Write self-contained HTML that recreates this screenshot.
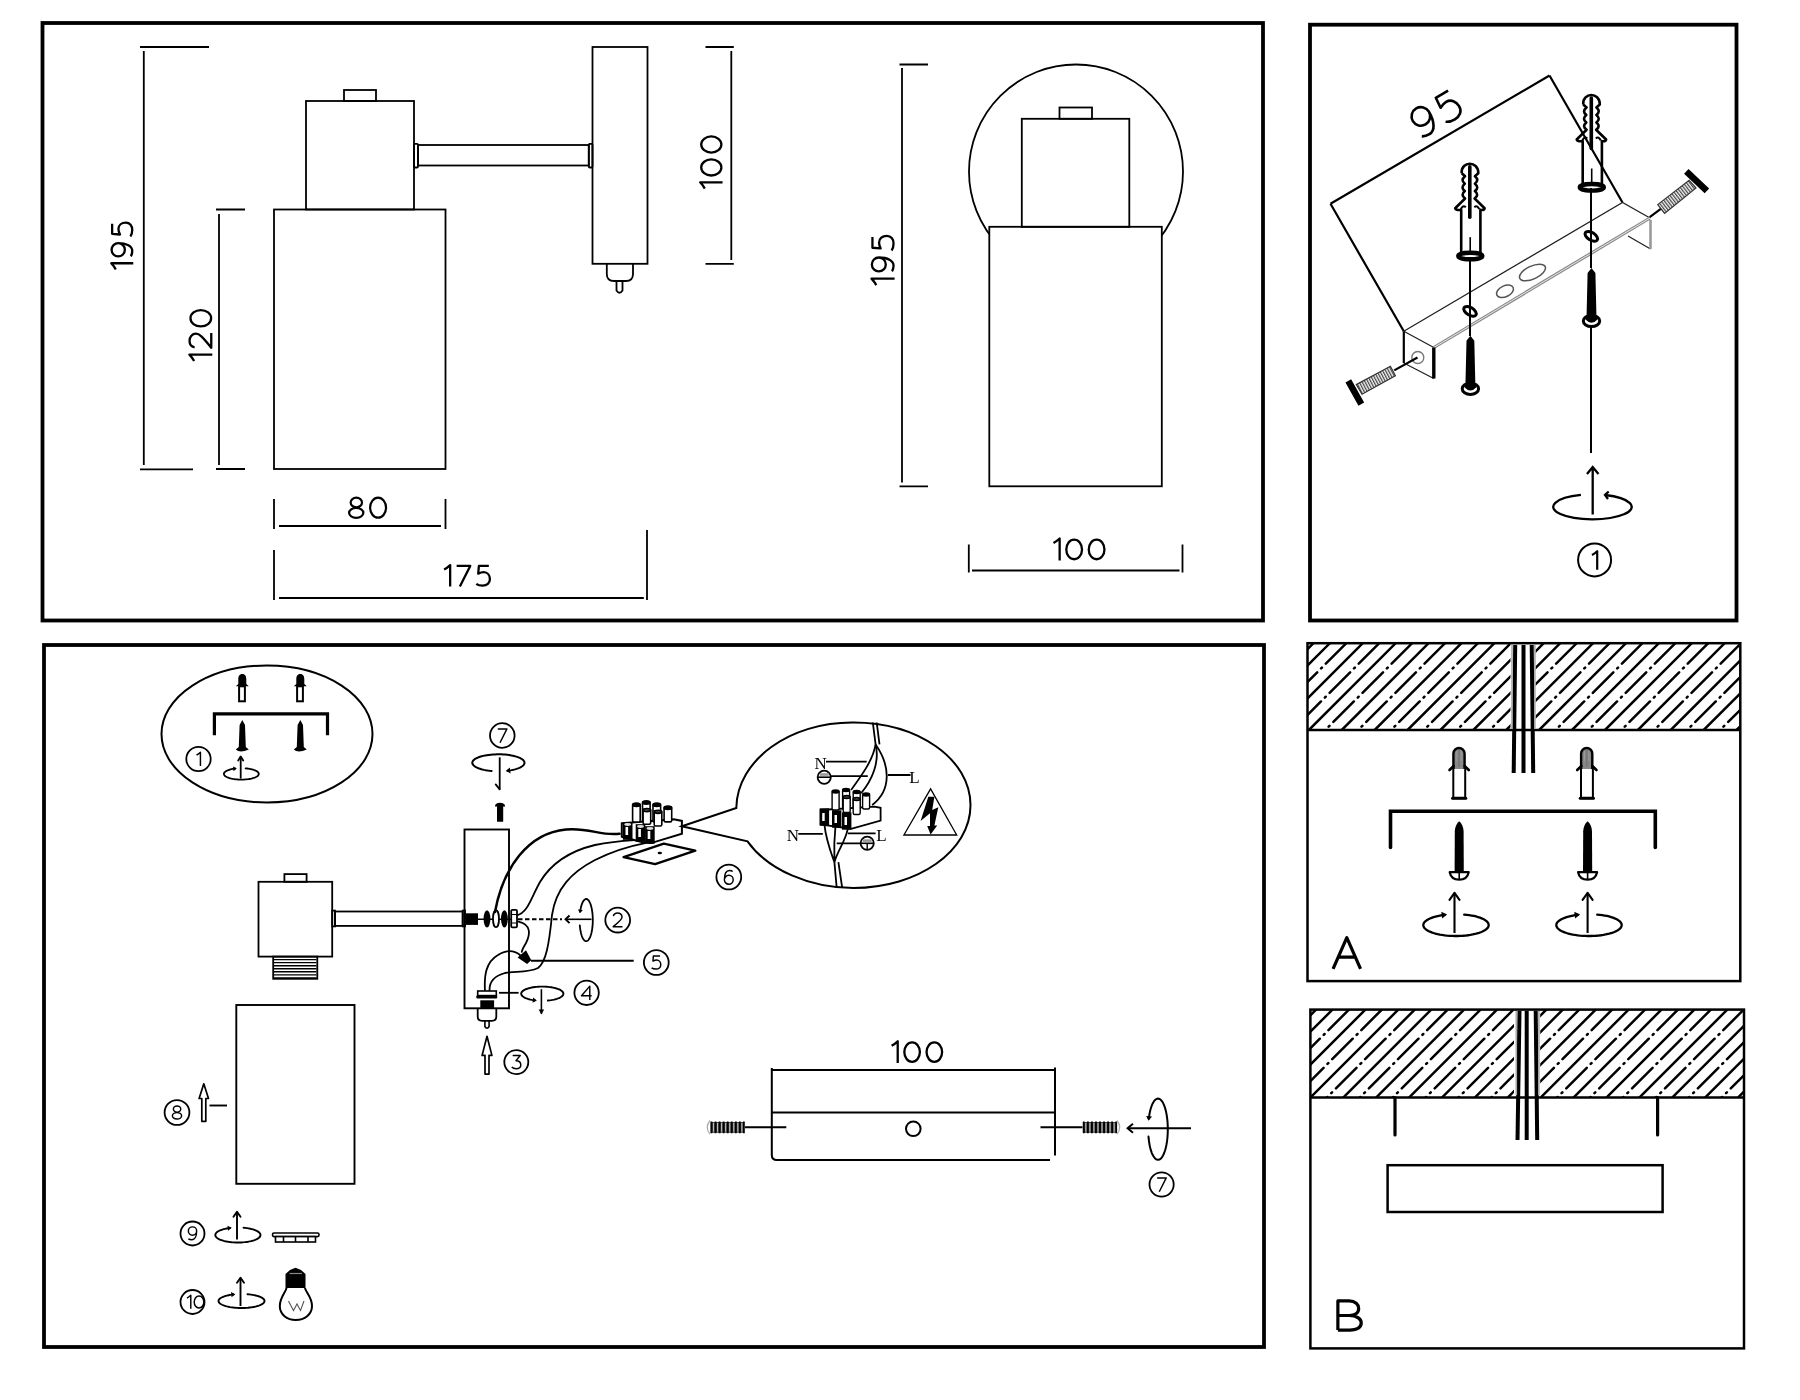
<!DOCTYPE html>
<html><head><meta charset="utf-8"><title>Lamp installation</title>
<style>
html,body{margin:0;padding:0;background:#fff;width:1800px;height:1400px;overflow:hidden}
svg{display:block;filter:grayscale(100%)}
text{font-family:"Liberation Sans",sans-serif;fill:#000}
.d{font-size:32px}
.sf{font-family:"Liberation Serif",serif}
</style></head><body>
<svg width="1800" height="1400" viewBox="0 0 1800 1400">
<rect x="0" y="0" width="1800" height="1400" fill="#fff"/>
<!-- ===== FRAMES ===== -->
<g fill="none" stroke="#000" stroke-width="3.8">
<rect x="42.5" y="23" width="1220.5" height="597.5"/>
<rect x="1310" y="24.7" width="426.5" height="595.8"/>
<rect x="44" y="645" width="1220" height="702"/>
</g>

<!-- ===== PANEL 1: side view ===== -->
<g id="p1" fill="none" stroke="#000" stroke-width="1.8">
 <!-- dim 195 -->
 <path d="M140 47H209M143.8 51V465M140 469.3H193"/>
 <!-- head box + cap -->
 <rect x="306" y="101" width="108" height="108.5"/>
 <rect x="344" y="90" width="32" height="11"/>
 <!-- shade -->
 <rect x="274" y="209.5" width="171.5" height="259.5"/>
 <!-- dim 120 -->
 <path d="M216 209.5H245M219 214V465M216 469H245"/>
 <!-- arm -->
 <rect x="418" y="145" width="170.8" height="20.5"/>
 <rect x="414" y="143.8" width="4" height="23.7" rx="1"/>
 <rect x="588.8" y="143.8" width="3.7" height="23.7" rx="1"/>
 <!-- wall plate -->
 <rect x="592.5" y="47" width="55" height="216.8"/>
 <path d="M606.8 263.8V274Q606.8 281 614 281H626Q633 281 633 274V263.8"/>
 <path d="M616.5 281V290.5Q619.5 295 622.5 290.5V281"/>
 <!-- dim 100 -->
 <path d="M705.5 47H733.8M731.3 51V260M705.5 263.8H733.8"/>
 <!-- dim 80 -->
 <path d="M274 499V529M445.5 499V529M279 526H441"/>
 <!-- dim 175 -->
 <path d="M274 550V600M647 530V600M279 598H643.8"/>
</g>
<g>
</g>

<!-- ===== PANEL 1: front view ===== -->
<g fill="none" stroke="#000" stroke-width="1.8">
 <path d="M899.5 64.5H928M902 68V482.5M899.5 486.3H928"/>
 <circle cx="1076" cy="171.5" r="107"/>
 <rect x="989.3" y="226.8" width="172.5" height="259.5" fill="#fff"/>
 <rect x="1021.8" y="118.8" width="107.5" height="108"/>
 <rect x="1059.5" y="107.5" width="32.5" height="11.3"/>
 <path d="M968.8 544.5V572.5M1182.5 544.5V572.5M972 570.5H1179.5"/>
</g>
<g>
</g>


<!-- ===== PANEL 3: isometric bracket ===== -->
<defs>
 <g id="anchor">
  <path d="M-8.1,9.5 C-8.6,3 -4,0 0,0 C4,0 8.6,3 8.5,9.5 L5.1,12.5 Q9.8,16.2 5.1,20 Q9.8,23.7 5.1,27.4 Q9.8,31.2 4.8,34.8 L14.8,44.5 Q14.5,46.6 10.6,46.2 L10.6,89.5 M-8.1,9.5 L-4.7,12.5 Q-9.6,16.2 -5,20 Q-9.6,23.7 -5,27.4 Q-9.6,31.2 -4.7,34.8 L-14.6,44.5 Q-14.5,46.6 -8.6,46.2 L-8.6,89.5" fill="none" stroke="#000" stroke-width="2.6" stroke-linejoin="round"/>
  <path d="M-9,45.5 Q-7,41 -4,43.5 M9.5,45.5 Q7.5,41 4.5,43.5" fill="none" stroke="#000" stroke-width="2"/>
  <path d="M0,3 V53.5" stroke="#000" stroke-width="3.6" stroke-linecap="round"/>
  <path d="M0.4,73.5 V91" stroke="#000" stroke-width="1.6"/>
  <ellipse cx="0.5" cy="92.3" rx="12" ry="3.3" fill="none" stroke="#000" stroke-width="4.4"/>
 </g>
 <pattern id="thrR" patternUnits="userSpaceOnUse" width="2.6" height="2.6" patternTransform="rotate(-37.7)"><rect width="2.6" height="2.6" fill="#f2f2f2"/><rect width="1.2" height="2.6" fill="#444"/></pattern>
 <pattern id="thrL" patternUnits="userSpaceOnUse" width="2.6" height="2.6" patternTransform="rotate(-27.6)"><rect width="2.6" height="2.6" fill="#f2f2f2"/><rect width="1.2" height="2.6" fill="#444"/></pattern>
 <g id="screw">
  <path d="M0,0 L-3.9,5 L-5,51 L5,51 L3.9,5 Z" fill="#000"/>
  <ellipse cx="0" cy="53" rx="8.2" ry="5.6" fill="#fff" stroke="#000" stroke-width="3"/>
  <path d="M-6,51.5 Q0,58 6,51.5 L4.6,48 L-4.6,48 Z" fill="#000"/>
 </g>
</defs>
<g fill="none" stroke="#000">
 <path d="M1330.5,203.8 L1549.5,75.5 M1330.5,203.8 L1403.8,331.3 M1549.5,75.5 L1622.5,202.5" stroke-width="2.2"/>
 <path d="M1403.8,331.3 L1622.5,202.5 L1650,218 M1403.8,331.3 L1433.8,347.5 M1403.8,363 L1433.8,378.5 M1650.5,249 L1628,236" stroke-width="1.3" stroke="#222"/>
 <path d="M1433.8,347.5 L1650,218" stroke="#8a8a8a" stroke-width="3.2"/>
 <path d="M1433.8,347.5 L1650,218" stroke="#e8e8e8" stroke-width="1"/>
 <path d="M1650.5,220 V249" stroke="#9a9a9a" stroke-width="2.6"/>
 <path d="M1403.8,331.3 V363" stroke-width="2.2"/>
 <path d="M1433.8,347.5 V378.5" stroke-width="3.4"/>
 <circle cx="1417.8" cy="357.5" r="6" stroke="#777" stroke-width="1.4"/>
 <ellipse cx="1505" cy="291.3" rx="9" ry="5.5" transform="rotate(-25 1505 291.3)" stroke="#555" stroke-width="1.5"/>
 <ellipse cx="1532.5" cy="272.5" rx="14" ry="6.5" transform="rotate(-25 1532.5 272.5)" stroke="#555" stroke-width="1.5"/>
 <ellipse cx="1470" cy="311.3" rx="7" ry="3.8" transform="rotate(32 1470 311.3)" stroke-width="3"/>
 <ellipse cx="1591.3" cy="236.3" rx="7" ry="3.8" transform="rotate(32 1591.3 236.3)" stroke-width="3"/>
 <path d="M1470,258 V336 M1591,188 V268 M1591,327 V453" stroke-width="2"/>
 <!-- bolts -->
 <path d="M1417.5,357.5 L1394.2,370.4 M1649.7,217.1 L1661.1,208.6" stroke-width="2.2"/>
</g>
<polygon points="1390.4,366.3 1395.4,375.8 1362,394.2 1356.3,384.6" fill="url(#thrL)" stroke="#333" stroke-width="1.2"/>
<polygon points="1657.7,204.6 1689.1,180.3 1696,188 1664.6,213.4" fill="url(#thrR)" stroke="#333" stroke-width="1.2"/>
<path d="M1348.3,380.8 L1361.3,404.2 M1686.3,171.4 L1706.9,190.9" stroke="#000" stroke-width="6.5"/>
<use href="#anchor" x="1469.8" y="163.7"/>
<use href="#anchor" x="1591.3" y="95"/>
<use href="#screw" x="1470.4" y="335.8"/>
<use href="#screw" x="1591.5" y="268"/>
<g fill="none" stroke="#000" stroke-width="2.3">
 <path d="M1592.7,514.4 V467 M1587,474 L1592.7,467 L1598.5,474"/>
 <path d="M1580.9,494.9 A39.25,12.5 0 1 0 1605,495"/>
 <path d="M1608.7,491.5 L1605,495 L1608,499"/>
 <circle cx="1594.6" cy="559.9" r="16.5" stroke-width="2"/>
</g>


<!-- ===== PANEL 2: assembly ===== -->

<ellipse cx="267" cy="734" rx="105.5" ry="68.5" fill="none" stroke="#000" stroke-width="2"/>
<path d="M214.4,735.2 V713.8 H327.5 V735.2" fill="none" stroke="#000" stroke-width="3.2"/>
<path d="M242.3,674 c3,0 4,2.5 4,5 l0,5 l2.5,2.3 h-13 l2.5,-2.3 v-5 c0,-2.5 1,-5 4,-5z" fill="#000"/>
<rect x="239.1" y="686.3" width="5.8" height="15" fill="#fff" stroke="#000" stroke-width="2"/>
<path d="M242.3,719.9 l-2.7,5 l-0.8,22 l-3,2.5 q4,4 13,0 l-3,-2.5 l-0.8,-22 z" fill="#000"/>
<path d="M300.3,674 c3,0 4,2.5 4,5 l0,5 l2.5,2.3 h-13 l2.5,-2.3 v-5 c0,-2.5 1,-5 4,-5z" fill="#000"/>
<rect x="297.1" y="686.3" width="5.8" height="15" fill="#fff" stroke="#000" stroke-width="2"/>
<path d="M300.3,719.9 l-2.7,5 l-0.8,22 l-3,2.5 q4,4 13,0 l-3,-2.5 l-0.8,-22 z" fill="#000"/>
<circle cx="198.5" cy="759" r="12.2" fill="none" stroke="#000" stroke-width="1.8"/><g transform="translate(198.5,759) rotate(0) scale(13.8) translate(-0.19,0.5)" fill="none" stroke="#000" stroke-width="0.1051" stroke-linecap="butt" stroke-linejoin="round"><path transform="translate(0,0)" d="M0.05,-0.79 Q0.2,-0.87 0.33,-0.995 V0"/></g>
<path d="M245.6,768.37 L246.96,768.5 L248.28,768.67 L249.55,768.87 L250.77,769.1 L251.93,769.37 L253.02,769.66 L254.04,769.99 L254.96,770.33 L255.8,770.71 L256.55,771.1 L257.19,771.51 L257.73,771.94 L258.17,772.38 L258.49,772.83 L258.7,773.29 L258.79,773.75 L258.77,774.21 L258.64,774.67 L258.39,775.12 L258.03,775.57 L257.56,776.01 L256.99,776.43 L256.31,776.83 L255.53,777.22 L254.66,777.59 L253.71,777.93 L252.67,778.24 L251.55,778.52 L250.37,778.78 L249.13,779 L247.84,779.19 L246.51,779.35 L245.14,779.46 L243.75,779.55 L242.34,779.59 L240.92,779.6 L239.51,779.57 L238.11,779.5 L236.73,779.4 L235.39,779.26 L234.08,779.08 L232.82,778.87 L231.61,778.63 L230.47,778.36 L229.4,778.05 L228.41,777.72 L227.5,777.37 L226.69,776.99 L225.97,776.59 L225.35,776.18 L224.84,775.75 L224.44,775.3 L224.14,774.85 L223.97,774.39 L223.9,773.93 L223.95,773.47 L224.11,773.01 L224.39,772.56 L224.78,772.11 L225.28,771.68 L225.88,771.26 L226.59,770.86 L227.39,770.48 L228.28,770.12 L229.26,769.79 L230.32,769.48 L231.46,769.2 L232.65,768.96 L233.91,768.74 L235.21,768.56" fill="none" stroke="#000" stroke-width="1.8" stroke-linecap="round"/><path d="M236.77,768.37 L233.59,771.18 L233.01,766.42 Z" fill="#000"/>
<path d="M240.7,778.6 V756.5" stroke="#000" stroke-width="1.8"/><path d="M238.2,760.5 L240.7,756.5 L243.2,760.5" fill="none" stroke="#000" stroke-width="1.8" stroke-linecap="round" stroke-linejoin="round"/>
<g fill="none" stroke="#000" stroke-width="1.8">
<rect x="258.5" y="881.8" width="73.7" height="74.8"/>
<rect x="284.4" y="874.1" width="22.2" height="7.7"/>
<rect x="335" y="911.5" width="127.7" height="14.4"/>
<rect x="332.2" y="910.6" width="2.8" height="15.8"/>
<rect x="462.7" y="910.6" width="2.3" height="15.8"/>
<rect x="273.2" y="956.6" width="44.1" height="22.2"/>
</g>
<path d="M274,959.6 H316.5M274,962.65 H316.5M274,965.7 H316.5M274,968.75 H316.5M274,971.8 H316.5M274,974.85 H316.5M274,977.9 H316.5" stroke="#000" stroke-width="1.4"/>
<rect x="464.5" y="829.5" width="44.5" height="178.8" fill="none" stroke="#000" stroke-width="1.9"/>
<rect x="465.6" y="913.3" width="12.4" height="11.6" fill="#000"/>
<path d="M478,919.2 H511" stroke="#000" stroke-width="1.6"/>
<ellipse cx="487" cy="918.8" rx="3.4" ry="8.6" fill="#000"/>
<ellipse cx="496" cy="918.8" rx="3" ry="8.4" fill="#fff" stroke="#000" stroke-width="1.8"/>
<ellipse cx="504.4" cy="918.8" rx="3.4" ry="8.6" fill="#000"/>
<rect x="511.2" y="909.8" width="5.8" height="17.6" rx="1.2" fill="#fff" stroke="#000" stroke-width="1.8"/>
<path d="M511.2,914.5 H517 M511.2,923 H517" stroke="#000" stroke-width="1.2"/>
<path d="M518,919.3 H562" stroke="#000" stroke-width="1.9" stroke-dasharray="4.5,2.5"/>
<path d="M566,919.3 H591.5" stroke="#000" stroke-width="1.6"/>
<path d="M569.5,915.5 L565.6,919.3 L569.5,923.1" fill="none" stroke="#000" stroke-width="2"/>
<path d="M579.81,925.38 L579.96,927 L580.16,928.58 L580.39,930.1 L580.66,931.56 L580.96,932.94 L581.3,934.25 L581.67,935.46 L582.07,936.57 L582.5,937.57 L582.95,938.46 L583.42,939.24 L583.91,939.89 L584.41,940.41 L584.93,940.81 L585.45,941.06 L585.98,941.19 L586.51,941.18 L587.04,941.03 L587.56,940.75 L588.07,940.33 L588.58,939.79 L589.06,939.11 L589.53,938.32 L589.98,937.41 L590.4,936.38 L590.79,935.25 L591.16,934.03 L591.49,932.71 L591.79,931.31 L592.05,929.84 L592.28,928.31 L592.47,926.73 L592.61,925.1 L592.72,923.44 L592.78,921.76 L592.8,920.06 L592.78,918.37 L592.71,916.69 L592.61,915.03 L592.46,913.4 L592.27,911.82 L592.04,910.29 L591.78,908.83 L591.48,907.43 L591.14,906.12 L590.78,904.9 L590.38,903.77 L589.96,902.75 L589.51,901.85 L589.04,901.06 L588.55,900.39 L588.05,899.85 L587.54,899.44 L587.02,899.16 L586.49,899.02 L585.96,899.01 L585.43,899.14 L584.91,899.41 L584.39,899.81 L583.89,900.34 L583.4,900.99 L582.93,901.77 L582.48,902.67 L582.06,903.68 L581.66,904.79 L581.29,906.01 L580.95,907.31 L580.65,908.7 L580.38,910.16 L580.15,911.69" fill="none" stroke="#000" stroke-width="1.8" stroke-linecap="round"/><path d="M579.94,913.25 L577.93,909.44 L582.88,910.12 Z" fill="#000"/>
<circle cx="617.7" cy="920.1" r="12.4" fill="none" stroke="#000" stroke-width="1.8"/><g transform="translate(617.7,920.1) rotate(0) scale(14.49) translate(-0.36,0.5)" fill="none" stroke="#000" stroke-width="0.1001" stroke-linecap="butt" stroke-linejoin="round"><path transform="translate(0,0)" d="M0.06,-0.77 C0.1,-0.94 0.22,-0.99 0.35,-0.99 C0.53,-0.99 0.66,-0.87 0.66,-0.71 C0.66,-0.57 0.56,-0.45 0.05,-0.045 H0.69"/></g>
<path d="M497,821.8 V806.5 H494.9 Q495.2,802.8 500,802.8 Q504.8,802.8 505.2,806.5 H503.2 V821.8 Z" fill="#000"/>
<circle cx="502.3" cy="735.5" r="12.3" fill="none" stroke="#000" stroke-width="1.8"/><g transform="translate(502.3,735.5) rotate(0) scale(14.49) translate(-0.36,0.5)" fill="none" stroke="#000" stroke-width="0.1001" stroke-linecap="butt" stroke-linejoin="round"><path transform="translate(0,0)" d="M0.05,-0.955 H0.68 L0.2,0"/></g>
<path d="M491.64,771.01 L489.63,770.81 L487.68,770.55 L485.79,770.24 L483.99,769.89 L482.28,769.49 L480.68,769.04 L479.19,768.55 L477.82,768.03 L476.6,767.47 L475.51,766.88 L474.57,766.27 L473.79,765.63 L473.17,764.98 L472.71,764.31 L472.42,763.63 L472.3,762.94 L472.35,762.25 L472.57,761.57 L472.96,760.9 L473.52,760.23 L474.23,759.59 L475.11,758.96 L476.14,758.36 L477.31,757.79 L478.62,757.26 L480.06,756.75 L481.61,756.29 L483.28,755.87 L485.05,755.5 L486.9,755.17 L488.83,754.89 L490.82,754.67 L492.86,754.49 L494.94,754.38 L497.03,754.31 L499.14,754.3 L501.24,754.35 L503.33,754.45 L505.38,754.61 L507.39,754.82 L509.34,755.08 L511.21,755.39 L513.01,755.76 L514.7,756.16 L516.3,756.61 L517.77,757.1 L519.12,757.63 L520.33,758.19 L521.4,758.78 L522.32,759.4 L523.09,760.04 L523.69,760.7 L524.13,761.37 L524.4,762.05 L524.5,762.74 L524.43,763.42 L524.19,764.1 L523.78,764.78 L523.21,765.44 L522.48,766.08 L521.58,766.7 L520.54,767.3 L519.35,767.87 L518.03,768.4 L516.58,768.9 L515.01,769.36 L513.33,769.77 L511.55,770.14 L509.69,770.46 L507.75,770.74" fill="none" stroke="#000" stroke-width="2" stroke-linecap="round"/><path d="M505.74,770.99 L509.84,767.45 L510.58,773.41 Z" fill="#000"/>
<path d="M499.7,757.3 V789.4" stroke="#000" stroke-width="1.8"/><path d="M495.7,784.4 L499.7,789.4" fill="none" stroke="#000" stroke-width="1.8" stroke-linecap="round"/>
<g fill="none" stroke="#000" stroke-linecap="round">
<path d="M495,912 C503,868 528,833 566,829.5 C590,827.5 600,836 619.5,833.8" stroke-width="2.5"/>
<path d="M517,915.5 C528,912 530,900 540,882 C552,862 570,851 595,845 C610,842 622,841 634.7,840.2" stroke-width="1.8"/>
<path d="M518.6,921.7 C532,925 530,935 526,943 C523,948 522,950 521.8,951.8" stroke-width="1.8"/>
<path d="M485,991 C484,975 486,962 498,955 C506,950 514,950 520,955" stroke-width="1.8"/>
<path d="M489.6,991 C489,982 494,976 505,973 C515,971 528,973 538,968 C546,962 549,945 552,915 C556,888 572,872 595,860 C615,850 630,846 645.2,843.1" stroke-width="1.8"/>
</g>
<path d="M517.6,957.6 L526,950.2 L531.3,960.3 L527.1,964 Z" fill="#000"/>
<path d="M531,960.8 H633.7" stroke="#000" stroke-width="1.9"/>
<circle cx="656.3" cy="962.5" r="12.4" fill="none" stroke="#000" stroke-width="1.8"/><g transform="translate(656.3,962.5) rotate(0) scale(14.49) translate(-0.36,0.5)" fill="none" stroke="#000" stroke-width="0.1001" stroke-linecap="butt" stroke-linejoin="round"><path transform="translate(0,0)" d="M0.62,-0.955 H0.16 L0.13,-0.6 C0.25,-0.66 0.34,-0.67 0.38,-0.67 C0.56,-0.67 0.67,-0.52 0.67,-0.34 C0.67,-0.15 0.53,-0.045 0.34,-0.045 C0.21,-0.045 0.1,-0.08 0.04,-0.13"/></g>
<rect x="477.7" y="991" width="18.6" height="4.6" fill="#fff" stroke="#000" stroke-width="1.6"/>
<rect x="476.3" y="995.4" width="20.9" height="3.2" rx="1" fill="#000"/>
<rect x="480.3" y="1000.3" width="13.8" height="8" fill="#000"/>
<path d="M477.7,1008.3 V1016.5 Q477.7,1020.8 482,1020.8 H492 Q496.3,1020.8 496.3,1016.5 V1008.3" fill="none" stroke="#000" stroke-width="1.8"/>
<path d="M484.9,1020.8 V1026.5 Q487,1030 489.1,1026.5 V1020.8" fill="none" stroke="#000" stroke-width="1.6"/>
<path d="M499,992.8 H518.6" stroke="#000" stroke-width="1.8"/>
<path d="M547.9,1000.55 L549.53,1000.37 L551.11,1000.15 L552.63,999.89 L554.08,999.59 L555.46,999.25 L556.75,998.88 L557.94,998.47 L559.03,998.02 L560.02,997.56 L560.89,997.06 L561.63,996.55 L562.25,996.01 L562.74,995.46 L563.1,994.9 L563.32,994.33 L563.4,993.76 L563.34,993.18 L563.15,992.61 L562.82,992.05 L562.36,991.5 L561.76,990.96 L561.04,990.44 L560.2,989.94 L559.23,989.46 L558.16,989.02 L556.99,988.6 L555.71,988.22 L554.35,987.87 L552.92,987.56 L551.41,987.3 L549.84,987.07 L548.22,986.89 L546.57,986.75 L544.88,986.65 L543.18,986.61 L541.48,986.61 L539.78,986.65 L538.09,986.74 L536.44,986.88 L534.82,987.06 L533.25,987.29 L531.74,987.55 L530.3,987.86 L528.93,988.21 L527.66,988.59 L526.48,989 L525.4,989.45 L524.44,989.92 L523.59,990.42 L522.86,990.94 L522.26,991.48 L521.79,992.03 L521.46,992.59 L521.26,993.16 L521.2,993.74 L521.28,994.31 L521.49,994.88 L521.84,995.44 L522.33,995.99 L522.94,996.53 L523.69,997.04 L524.55,997.54 L525.53,998.01 L526.62,998.45 L527.81,998.86 L529.1,999.24 L530.47,999.58 L531.92,999.88 L533.44,1000.14 L535.01,1000.36" fill="none" stroke="#000" stroke-width="1.9" stroke-linecap="round"/><path d="M536.8,1000.58 L532.51,1002.67 L533.15,997.51 Z" fill="#000"/>
<path d="M541.4,989.2 V1013.6" stroke="#000" stroke-width="1.6"/><path d="M541.4,1014.6 L538.65,1009.6 L544.15,1009.6 Z" fill="#000"/>
<circle cx="586.6" cy="992.8" r="12.2" fill="none" stroke="#000" stroke-width="1.8"/><g transform="translate(586.6,992.8) rotate(0) scale(14.49) translate(-0.39,0.5)" fill="none" stroke="#000" stroke-width="0.1001" stroke-linecap="butt" stroke-linejoin="round"><path transform="translate(0,0)" d="M0.61,0 V-0.96 L0.04,-0.29 H0.74"/></g>
<path d="M487,1036.3 L491.9,1055.4 H489 V1074.1 H485 V1055.4 H482.1 Z" fill="#fff" stroke="#000" stroke-width="1.7" stroke-linejoin="round"/>
<circle cx="516.3" cy="1062.1" r="12" fill="none" stroke="#000" stroke-width="1.8"/><g transform="translate(516.3,1062.1) rotate(0) scale(14.49) translate(-0.35,0.5)" fill="none" stroke="#000" stroke-width="0.1001" stroke-linecap="butt" stroke-linejoin="round"><path transform="translate(0,0)" d="M0.1,-0.955 H0.62 L0.33,-0.6 C0.53,-0.6 0.66,-0.47 0.66,-0.3 C0.66,-0.12 0.52,-0.045 0.34,-0.045 C0.2,-0.045 0.1,-0.09 0.04,-0.16"/></g>
<g stroke="#000" stroke-width="1.6">
<path d="M621.8,823.3 L673.8,819.2 L681.9,820.9 V833.8 L651,843.1 L641.7,841.9 L621.8,836.7 Z" fill="#fff" stroke-width="2"/>
<rect x="632.6" y="804" width="7.6" height="18" rx="1.5" fill="#fff"/>
<ellipse cx="636.4" cy="804.8" rx="3.8" ry="1.7" fill="#000"/>
<rect x="642.5" y="801.8" width="7.6" height="20" rx="1.5" fill="#fff"/>
<ellipse cx="646.3" cy="802.6" rx="3.8" ry="1.7" fill="#000"/>
<rect x="653" y="804" width="7.6" height="18" rx="1.5" fill="#fff"/>
<ellipse cx="656.8" cy="804.8" rx="3.8" ry="1.7" fill="#000"/>
<rect x="664.1" y="806.9" width="7.6" height="15" rx="1.5" fill="#fff"/>
<ellipse cx="667.9" cy="807.7" rx="3.8" ry="1.7" fill="#000"/>
<rect x="643.1" y="809.3" width="7.6" height="15" rx="1.5" fill="#fff"/>
<ellipse cx="646.9" cy="810.1" rx="3.8" ry="1.6" fill="#444"/>
<rect x="654.2" y="811" width="7.6" height="15" rx="1.5" fill="#fff"/>
<ellipse cx="658" cy="811.8" rx="3.8" ry="1.6" fill="#444"/>
<rect x="623.7" y="823" width="8" height="16" fill="#000"/>
<rect x="625.5" y="827" width="2.6" height="8" fill="#fff" stroke="none"/>
<ellipse cx="627.7" cy="824.5" rx="3.4" ry="1.4" fill="#ddd" stroke="none"/>
<rect x="636.5" y="825" width="8" height="16" fill="#000"/>
<rect x="638.3" y="829" width="2.6" height="8" fill="#fff" stroke="none"/>
<ellipse cx="640.5" cy="826.5" rx="3.4" ry="1.4" fill="#ddd" stroke="none"/>
<rect x="645.9" y="827" width="8" height="16" fill="#000"/>
<rect x="647.7" y="831" width="2.6" height="8" fill="#fff" stroke="none"/>
<ellipse cx="649.9" cy="828.5" rx="3.4" ry="1.4" fill="#ddd" stroke="none"/>
</g>
<path d="M623.6,857.1 L663.8,843.7 L695.3,850.7 L655.1,864.1 Z" fill="#fff" stroke="#000" stroke-width="2.4" stroke-linejoin="round"/>
<ellipse cx="659.8" cy="853" rx="2.2" ry="1.3" fill="#000"/>
<path d="M681.9,826.2 L736.3,808 C737,760 790,722 853.4,722.5 C918,722.5 970.5,759 970.5,805.3 C970.5,851 918,888 853.4,888 C810,888 768,870 747.5,841.3 Z" fill="#fff" stroke="#000" stroke-width="2"/>
<circle cx="728.8" cy="877" r="12.4" fill="none" stroke="#000" stroke-width="1.8"/><g transform="translate(728.8,877) rotate(0) scale(14.49) translate(-0.36,0.5)" fill="none" stroke="#000" stroke-width="0.1001" stroke-linecap="butt" stroke-linejoin="round"><path transform="translate(0,0)" d="M0.055,-0.31 A0.305,0.305 0 1 0 0.665,-0.31 A0.305,0.305 0 1 0 0.055,-0.31Z M0.055,-0.31 C0.055,-0.75 0.2,-0.955 0.4,-0.955 C0.5,-0.955 0.57,-0.93 0.63,-0.88"/></g>
<text x="820.6" y="769" font-size="17" text-anchor="middle" class="sf">N</text>
<text x="914.4" y="782.5" font-size="17" text-anchor="middle" class="sf">L</text>
<text x="792.8" y="840.5" font-size="17" text-anchor="middle" class="sf">N</text>
<text x="881.5" y="841" font-size="17" text-anchor="middle" class="sf">L</text>
<path d="M826,761.7 H866.7 M831,776.1 H867.8 M887.8,775 H910.6 M798.3,833.9 H822.8 M847.8,833.3 H875.6 M836.7,843.3 H860" stroke="#000" stroke-width="1.8"/>
<circle cx="824.2" cy="777.2" r="6.6" fill="#fff" stroke="#000" stroke-width="1.8"/>
<path d="M817.6,777.2 H830.8" stroke="#000" stroke-width="1.6"/>
<rect x="819.7" y="773.2" width="9" height="2.6" fill="#999"/>
<circle cx="867.2" cy="843.3" r="6.6" fill="#fff" stroke="#000" stroke-width="1.8"/>
<path d="M860.6,843.3 H873.8" stroke="#000" stroke-width="1.6"/>
<rect x="862.7" y="839.3" width="9" height="2.6" fill="#999"/>
<path d="M867.2,843.3 V849.9" stroke="#000" stroke-width="1.4"/>
<g fill="none" stroke="#000" stroke-width="1.8">
<path d="M872.8,722.5 L875.6,744.4 M876.7,722.5 L879.5,744.4"/>
<path d="M875.6,744.4 C873,760 862,775 851.1,790"/>
<path d="M875.6,744.4 C880,762 872,780 861.1,793.3"/>
<path d="M875.6,744.4 C890,765 892,790 872.2,805"/>
<path d="M824.4,824.4 C826,840 830,850 834.4,862.2 M835.6,824 C834,840 834,852 834.4,862.2 M847.8,828.9 C845,842 838,850 834.4,862.2"/>
<path d="M834.4,862.2 L836.7,887.8 M838.4,862.2 L842.2,887.8"/>
</g>
<g stroke="#000" stroke-width="1.4">
<path d="M820.6,810 L874.4,806.7 L880.6,807.8 V820.6 L851.1,828.9 L820.6,824.4 Z" fill="#fff" stroke-width="1.8"/>
<rect x="832.1" y="791" width="7" height="19" rx="1.5" fill="#fff"/>
<ellipse cx="835.6" cy="791.5" rx="3.5" ry="1.5" fill="#000"/>
<rect x="842.6" y="789.5" width="7" height="19" rx="1.5" fill="#fff"/>
<ellipse cx="846.1" cy="790" rx="3.5" ry="1.5" fill="#000"/>
<rect x="853.2" y="791.5" width="7" height="17" rx="1.5" fill="#fff"/>
<ellipse cx="856.7" cy="792" rx="3.5" ry="1.5" fill="#000"/>
<rect x="862.6" y="794" width="7" height="15" rx="1.5" fill="#fff"/>
<ellipse cx="866.1" cy="794.5" rx="3.5" ry="1.5" fill="#000"/>
<rect x="843.2" y="796.5" width="7" height="16" rx="1.5" fill="#fff"/>
<ellipse cx="846.7" cy="797" rx="3.5" ry="1.5" fill="#444"/>
<rect x="853.2" y="798.5" width="7" height="16" rx="1.5" fill="#fff"/>
<ellipse cx="856.7" cy="799" rx="3.5" ry="1.5" fill="#444"/>
<rect x="820.4" y="809" width="8" height="16" fill="#000"/>
<rect x="822.2" y="813" width="2.5" height="8" fill="#fff" stroke="none"/>
<rect x="832.7" y="811" width="8" height="16" fill="#000"/>
<rect x="834.5" y="815" width="2.5" height="8" fill="#fff" stroke="none"/>
<rect x="842.7" y="813" width="8" height="16" fill="#000"/>
<rect x="844.5" y="817" width="2.5" height="8" fill="#fff" stroke="none"/>
</g>
<path d="M930.6,788.9 L956.7,835 H903.9 Z" fill="none" stroke="#000" stroke-width="1.3"/>
<path d="M928.3,796.7 L934.4,796.7 L932.2,810 L938.3,807.2 L934.4,825.6 L937.2,825.6 L930.6,834.4 L927.2,826.1 L930,826.1 L930,813.3 L920.6,821.1 Z" fill="#000"/>
<rect x="236.3" y="1005" width="118.2" height="178.8" fill="none" stroke="#000" stroke-width="1.9"/>
<path d="M203.8,1083.8 L208.5,1098.5 H205.8 V1121.3 H201.8 V1098.5 H199.1 Z" fill="#fff" stroke="#000" stroke-width="1.7" stroke-linejoin="round"/>
<path d="M209.5,1105.5 H227" stroke="#000" stroke-width="1.9"/>
<circle cx="177" cy="1112.5" r="12.4" fill="none" stroke="#000" stroke-width="1.8"/><g transform="translate(177,1112.5) rotate(0) scale(14.49) translate(-0.37,0.5)" fill="none" stroke="#000" stroke-width="0.1001" stroke-linecap="butt" stroke-linejoin="round"><path transform="translate(0,0)" d="M0.12,-0.735 A0.255,0.215 0 1 0 0.63,-0.735 A0.255,0.215 0 1 0 0.12,-0.735Z M0.05,-0.27 A0.32,0.225 0 1 0 0.69,-0.27 A0.32,0.225 0 1 0 0.05,-0.27Z"/></g>
<circle cx="192.5" cy="1233.5" r="12" fill="none" stroke="#000" stroke-width="1.8"/><g transform="translate(192.5,1233.5) rotate(0) scale(13.8) translate(-0.36,0.5)" fill="none" stroke="#000" stroke-width="0.1051" stroke-linecap="butt" stroke-linejoin="round"><path transform="translate(0,0)" d="M0.06,-0.68 A0.3,0.3 0 1 0 0.66,-0.68 A0.3,0.3 0 1 0 0.06,-0.68Z M0.66,-0.68 C0.66,-0.3 0.52,-0.045 0.31,-0.045 C0.2,-0.045 0.12,-0.07 0.06,-0.11"/></g>
<path d="M243.52,1227.74 L245.27,1227.91 L246.98,1228.13 L248.63,1228.4 L250.2,1228.71 L251.7,1229.06 L253.1,1229.45 L254.4,1229.88 L255.6,1230.34 L256.68,1230.83 L257.64,1231.35 L258.46,1231.89 L259.15,1232.45 L259.71,1233.03 L260.12,1233.62 L260.38,1234.22 L260.49,1234.83 L260.46,1235.44 L260.28,1236.04 L259.95,1236.64 L259.48,1237.23 L258.86,1237.8 L258.11,1238.36 L257.23,1238.89 L256.22,1239.39 L255.08,1239.87 L253.84,1240.32 L252.49,1240.73 L251.04,1241.1 L249.51,1241.43 L247.9,1241.73 L246.23,1241.97 L244.5,1242.17 L242.73,1242.33 L240.93,1242.43 L239.1,1242.49 L237.27,1242.5 L235.44,1242.46 L233.63,1242.37 L231.85,1242.23 L230.11,1242.04 L228.41,1241.81 L226.78,1241.53 L225.23,1241.21 L223.75,1240.85 L222.37,1240.45 L221.1,1240.01 L219.93,1239.55 L218.88,1239.05 L217.95,1238.52 L217.16,1237.98 L216.5,1237.41 L215.98,1236.83 L215.61,1236.23 L215.38,1235.63 L215.3,1235.02 L215.37,1234.41 L215.59,1233.81 L215.95,1233.21 L216.46,1232.63 L217.11,1232.06 L217.89,1231.51 L218.81,1230.99 L219.85,1230.49 L221.01,1230.02 L222.28,1229.58 L223.65,1229.18 L225.12,1228.81 L226.67,1228.49 L228.3,1228.21 L229.99,1227.97" fill="none" stroke="#000" stroke-width="1.9" stroke-linecap="round"/><path d="M231.77,1227.75 L228.12,1230.83 L227.48,1225.67 Z" fill="#000"/>
<path d="M237,1239.5 V1211.8" stroke="#000" stroke-width="1.9"/><path d="M233.5,1216.8 L237,1211.8 L240.5,1216.8" fill="none" stroke="#000" stroke-width="1.9" stroke-linecap="round" stroke-linejoin="round"/>
<rect x="272.5" y="1233" width="46.5" height="3.6" rx="1.5" fill="#fff" stroke="#000" stroke-width="1.6"/>
<rect x="275.5" y="1236.6" width="40" height="5.4" fill="#fff" stroke="#000" stroke-width="1.6"/>
<path d="M283.5,1236.6 V1242 M295.5,1236.6 V1242 M308,1236.6 V1242" stroke="#000" stroke-width="1.6"/>
<circle cx="192.5" cy="1302" r="12" fill="none" stroke="#000" stroke-width="1.8"/><g transform="translate(195.5,1302) rotate(0) scale(13.45) translate(-0.68,0.5)" fill="none" stroke="#000" stroke-width="0.1078" stroke-linecap="butt" stroke-linejoin="round"><path transform="translate(0,0)" d="M0.05,-0.79 Q0.2,-0.87 0.33,-0.995 V0"/><path transform="translate(0.53,0)" d="M0.053,-0.5 A0.357,0.448 0 1 0 0.767,-0.5 A0.357,0.448 0 1 0 0.053,-0.5Z"/></g>
<path d="M247.45,1294.24 L249.23,1294.41 L250.96,1294.62 L252.62,1294.87 L254.21,1295.17 L255.72,1295.5 L257.13,1295.87 L258.45,1296.27 L259.65,1296.7 L260.73,1297.16 L261.69,1297.65 L262.51,1298.15 L263.2,1298.68 L263.75,1299.22 L264.14,1299.77 L264.4,1300.34 L264.5,1300.9 L264.45,1301.47 L264.25,1302.03 L263.9,1302.59 L263.41,1303.13 L262.77,1303.67 L261.99,1304.18 L261.08,1304.67 L260.04,1305.14 L258.88,1305.59 L257.6,1306 L256.22,1306.38 L254.74,1306.72 L253.18,1307.03 L251.54,1307.3 L249.84,1307.52 L248.08,1307.71 L246.27,1307.85 L244.44,1307.94 L242.58,1307.99 L240.72,1308 L238.87,1307.95 L237.03,1307.87 L235.22,1307.73 L233.45,1307.56 L231.74,1307.34 L230.08,1307.08 L228.51,1306.78 L227.01,1306.44 L225.62,1306.06 L224.33,1305.66 L223.14,1305.22 L222.08,1304.75 L221.15,1304.26 L220.35,1303.75 L219.69,1303.22 L219.17,1302.68 L218.8,1302.12 L218.57,1301.56 L218.5,1300.99 L218.58,1300.43 L218.8,1299.87 L219.18,1299.31 L219.7,1298.77 L220.36,1298.24 L221.17,1297.73 L222.1,1297.24 L223.17,1296.77 L224.35,1296.34 L225.64,1295.93 L227.04,1295.56 L228.54,1295.22 L230.11,1294.92 L231.77,1294.66 L233.48,1294.44" fill="none" stroke="#000" stroke-width="1.9" stroke-linecap="round"/><path d="M235.27,1294.24 L231.59,1297.27 L231,1292.1 Z" fill="#000"/>
<path d="M240.5,1306 V1277.8" stroke="#000" stroke-width="1.9"/><path d="M237,1282.8 L240.5,1277.8 L244,1282.8" fill="none" stroke="#000" stroke-width="1.9" stroke-linecap="round" stroke-linejoin="round"/>
<path d="M286.5,1288 C286,1292 280,1297 279.8,1306 C279.8,1314.5 287,1320 295.8,1320 C304.5,1320 312,1314.5 312,1306 C312,1297 305.5,1292 305,1288" fill="#fff" stroke="#000" stroke-width="2"/>
<path d="M285.5,1288 V1274 L290,1270 L295.5,1267.8 L301,1270 L305.5,1274 V1288 Z" fill="#000"/>
<path d="M289.5,1273.5 H302" stroke="#888" stroke-width="1.2"/>
<path d="M288.5,1301 L293.5,1310.5 L297,1304 L300.5,1310.5 L304,1301" fill="none" stroke="#555" stroke-width="1.1"/>
<g fill="none" stroke="#000" stroke-width="2">
<path d="M771.8,1070 H1055 M771.8,1112.5 H1054 M771.8,1068 V1155 Q771.8,1160 777,1160 H1050 M1055,1067.5 V1155.4"/>
<circle cx="913.3" cy="1128.8" r="7.3"/>
<path d="M745,1127.3 H786.3 M1040.5,1127.3 H1082.5"/>
</g>
<rect x="710.5" y="1122" width="33" height="10.8" fill="#444"/>
<path d="M711.5,1121.5 V1133.3M715.55,1121.5 V1133.3M719.6,1121.5 V1133.3M723.65,1121.5 V1133.3M727.7,1121.5 V1133.3M731.75,1121.5 V1133.3M735.8,1121.5 V1133.3M739.85,1121.5 V1133.3M743.9,1121.5 V1133.3" stroke="#000" stroke-width="1.8"/>
<path d="M713.5,1123 V1131.8M717.55,1123 V1131.8M721.6,1123 V1131.8M725.65,1123 V1131.8M729.7,1123 V1131.8M733.75,1123 V1131.8M737.8,1123 V1131.8M741.85,1123 V1131.8" stroke="#bbb" stroke-width="1.1"/>
<rect x="1082.8" y="1122" width="33" height="10.8" fill="#444"/>
<path d="M1083.8,1121.5 V1133.3M1087.85,1121.5 V1133.3M1091.9,1121.5 V1133.3M1095.95,1121.5 V1133.3M1100,1121.5 V1133.3M1104.05,1121.5 V1133.3M1108.1,1121.5 V1133.3M1112.15,1121.5 V1133.3M1116.2,1121.5 V1133.3" stroke="#000" stroke-width="1.8"/>
<path d="M1085.8,1123 V1131.8M1089.85,1123 V1131.8M1093.9,1123 V1131.8M1097.95,1123 V1131.8M1102,1123 V1131.8M1106.05,1123 V1131.8M1110.1,1123 V1131.8M1114.15,1123 V1131.8" stroke="#bbb" stroke-width="1.1"/>
<path d="M710,1120.5 Q704.5,1127.3 710,1134.1" fill="none" stroke="#aaa" stroke-width="1.2"/>
<path d="M1117,1120.5 Q1122.5,1127.3 1117,1134.1" fill="none" stroke="#aaa" stroke-width="1.2"/>
<path d="M1128.5,1128.3 H1191" stroke="#000" stroke-width="1.9"/>
<path d="M1133,1123.8 L1127.6,1128.3 L1133,1132.8" fill="none" stroke="#000" stroke-width="2"/>
<path d="M1148.49,1136.6 L1148.71,1138.99 L1149,1141.31 L1149.34,1143.55 L1149.75,1145.7 L1150.2,1147.74 L1150.71,1149.65 L1151.27,1151.43 L1151.87,1153.07 L1152.51,1154.54 L1153.18,1155.85 L1153.89,1156.98 L1154.63,1157.93 L1155.39,1158.69 L1156.16,1159.26 L1156.95,1159.62 L1157.75,1159.79 L1158.54,1159.75 L1159.33,1159.51 L1160.12,1159.08 L1160.89,1158.44 L1161.64,1157.61 L1162.37,1156.6 L1163.06,1155.4 L1163.73,1154.03 L1164.36,1152.49 L1164.94,1150.81 L1165.48,1148.97 L1165.97,1147.01 L1166.41,1144.93 L1166.79,1142.75 L1167.11,1140.48 L1167.37,1138.13 L1167.57,1135.73 L1167.71,1133.28 L1167.79,1130.8 L1167.8,1128.32 L1167.74,1125.83 L1167.62,1123.38 L1167.44,1120.96 L1167.19,1118.59 L1166.89,1116.3 L1166.52,1114.09 L1166.1,1111.98 L1165.63,1109.98 L1165.1,1108.11 L1164.53,1106.38 L1163.91,1104.8 L1163.26,1103.38 L1162.57,1102.13 L1161.85,1101.06 L1161.11,1100.18 L1160.34,1099.49 L1159.56,1098.99 L1158.77,1098.69 L1157.98,1098.6 L1157.18,1098.71 L1156.39,1099.02 L1155.61,1099.52 L1154.85,1100.23 L1154.1,1101.12 L1153.39,1102.2 L1152.7,1103.46 L1152.05,1104.89 L1151.44,1106.48 L1150.87,1108.22 L1150.34,1110.1 L1149.87,1112.1 L1149.45,1114.22 L1149.09,1116.43 L1148.79,1118.73" fill="none" stroke="#000" stroke-width="2" stroke-linecap="round"/><path d="M1148.56,1120.75 L1146.1,1115.93 L1152.06,1116.62 Z" fill="#000"/>
<circle cx="1161.6" cy="1184.5" r="12.1" fill="none" stroke="#000" stroke-width="1.8"/><g transform="translate(1161.6,1184.5) rotate(0) scale(14.49) translate(-0.36,0.5)" fill="none" stroke="#000" stroke-width="0.1001" stroke-linecap="butt" stroke-linejoin="round"><path transform="translate(0,0)" d="M0.05,-0.955 H0.68 L0.2,0"/></g>

<!-- ===== PANELS A / B ===== -->

<clipPath id="hA1"><rect x="1307.5" y="643.2" width="203" height="86.8"/></clipPath>
<g clip-path="url(#hA1)" stroke="#000" stroke-width="2.5" fill="none">
<path d="M1297,643.2 L1210.2,730 M1329.9,643.2 L1243.1,730 M1362.8,643.2 L1276,730 M1395.7,643.2 L1308.9,730 M1428.6,643.2 L1341.8,730 M1461.5,643.2 L1374.7,730 M1494.4,643.2 L1407.6,730 M1527.3,643.2 L1440.5,730 M1560.2,643.2 L1473.4,730 M1593.1,643.2 L1506.3,730 M1626,643.2 L1539.2,730"/>
<path d="M1280.55,643.2 L1193.75,730 M1313.45,643.2 L1226.65,730 M1346.35,643.2 L1259.55,730 M1379.25,643.2 L1292.45,730 M1412.15,643.2 L1325.35,730 M1445.05,643.2 L1358.25,730 M1477.95,643.2 L1391.15,730 M1510.85,643.2 L1424.05,730 M1543.75,643.2 L1456.95,730 M1576.65,643.2 L1489.85,730 M1609.55,643.2 L1522.75,730" stroke-dasharray="29 5.5 1.2 5.5" stroke-linecap="round"/>
</g>
<clipPath id="hA2"><rect x="1535.5" y="643.2" width="204.8" height="86.8"/></clipPath>
<g clip-path="url(#hA2)" stroke="#000" stroke-width="2.5" fill="none">
<path d="M1527.3,643.2 L1440.5,730 M1560.2,643.2 L1473.4,730 M1593.1,643.2 L1506.3,730 M1626,643.2 L1539.2,730 M1658.9,643.2 L1572.1,730 M1691.8,643.2 L1605,730 M1724.7,643.2 L1637.9,730 M1757.6,643.2 L1670.8,730 M1790.5,643.2 L1703.7,730 M1823.4,643.2 L1736.6,730 M1856.3,643.2 L1769.5,730"/>
<path d="M1510.85,643.2 L1424.05,730 M1543.75,643.2 L1456.95,730 M1576.65,643.2 L1489.85,730 M1609.55,643.2 L1522.75,730 M1642.45,643.2 L1555.65,730 M1675.35,643.2 L1588.55,730 M1708.25,643.2 L1621.45,730 M1741.15,643.2 L1654.35,730 M1774.05,643.2 L1687.25,730 M1806.95,643.2 L1720.15,730 M1839.85,643.2 L1753.05,730" stroke-dasharray="29 5.5 1.2 5.5" stroke-linecap="round"/>
</g>
<rect x="1307.5" y="643.2" width="432.8" height="337.9" fill="none" stroke="#000" stroke-width="2.5"/>
<path d="M1307.5,730 H1740.3" stroke="#000" stroke-width="2.5"/>
<path d="M1515.2,645 L1513.7,773" stroke="#000" stroke-width="4" stroke-linecap="butt"/>
<path d="M1523.5,645 L1523.5,773" stroke="#000" stroke-width="4" stroke-linecap="butt"/>
<path d="M1531.7,645 L1533.2,773" stroke="#000" stroke-width="4" stroke-linecap="butt"/>
<path d="M1512,645 V729 M1534.9,645 V729" stroke="#aaa" stroke-width="1.6"/>
<path d="M1453.4,769 V753.6 A5.6,5.6 0 0 1 1464.6,753.6 V769" fill="#888" stroke="#000" stroke-width="2.4"/>
<path d="M1459,750 V767" stroke="#777" stroke-width="1.6"/>
<path d="M1456.8,751 V761 M1461.2,751 V761" stroke="#999" stroke-width="1"/>
<path d="M1453.7,766 L1449.5,770 M1464.6,766 L1468.8,770" stroke="#000" stroke-width="2.6" stroke-linecap="round"/>
<path d="M1453.3,767 V798.3 H1465.2 V767" fill="none" stroke="#000" stroke-width="2"/>
<path d="M1452.5,798.3 H1465.8" stroke="#000" stroke-width="3" stroke-linecap="round"/>
<path d="M1581.1,769 V753.6 A5.6,5.6 0 0 1 1592.3,753.6 V769" fill="#888" stroke="#000" stroke-width="2.4"/>
<path d="M1586.7,750 V767" stroke="#777" stroke-width="1.6"/>
<path d="M1584.5,751 V761 M1588.9,751 V761" stroke="#999" stroke-width="1"/>
<path d="M1581.4,766 L1577.2,770 M1592.3,766 L1596.5,770" stroke="#000" stroke-width="2.6" stroke-linecap="round"/>
<path d="M1581,767 V798.3 H1592.9 V767" fill="none" stroke="#000" stroke-width="2"/>
<path d="M1580.2,798.3 H1593.5" stroke="#000" stroke-width="3" stroke-linecap="round"/>
<path d="M1390.5,847.4 V811.3 H1655.3 V847.4" fill="none" stroke="#000" stroke-width="3.6" stroke-linecap="round"/>
<path d="M1459.2,821.2 C1456.7,823.2 1454.9,827.2 1454.8,831.2 L1454.6,872.2 L1463.8,872.2 L1463.6,831.2 C1463.5,827.2 1461.7,823.2 1459.2,821.2 Z" fill="#000"/>
<path d="M1449.7,872.2 H1468.7 Q1467.2,879.7 1459.2,879.7 Q1451.2,879.7 1449.7,872.2 Z" fill="#fff" stroke="#000" stroke-width="2.2" stroke-linejoin="round"/>
<path d="M1459.2,872.2 V879.2" stroke="#000" stroke-width="1.6"/>
<path d="M1587.6,821.2 C1585.1,823.2 1583.3,827.2 1583.2,831.2 L1583,872.2 L1592.2,872.2 L1592,831.2 C1591.9,827.2 1590.1,823.2 1587.6,821.2 Z" fill="#000"/>
<path d="M1578.1,872.2 H1597.1 Q1595.6,879.7 1587.6,879.7 Q1579.6,879.7 1578.1,872.2 Z" fill="#fff" stroke="#000" stroke-width="2.2" stroke-linejoin="round"/>
<path d="M1587.6,872.2 V879.2" stroke="#000" stroke-width="1.6"/>
<path d="M1464.2,914.55 L1466.74,914.8 L1469.2,915.13 L1471.58,915.52 L1473.86,915.97 L1476.02,916.48 L1478.05,917.05 L1479.93,917.67 L1481.66,918.34 L1483.22,919.06 L1484.6,919.81 L1485.79,920.6 L1486.78,921.42 L1487.58,922.27 L1488.16,923.13 L1488.53,924 L1488.69,924.88 L1488.64,925.77 L1488.37,926.65 L1487.89,927.52 L1487.19,928.37 L1486.3,929.2 L1485.2,930.01 L1483.91,930.78 L1482.44,931.51 L1480.8,932.21 L1478.99,932.85 L1477.03,933.45 L1474.93,933.99 L1472.71,934.47 L1470.38,934.89 L1467.95,935.25 L1465.44,935.54 L1462.88,935.76 L1460.26,935.91 L1457.62,935.99 L1454.97,935.99 L1452.33,935.93 L1449.71,935.8 L1447.13,935.59 L1444.61,935.32 L1442.16,934.98 L1439.81,934.57 L1437.56,934.1 L1435.43,933.57 L1433.44,932.99 L1431.6,932.36 L1429.91,931.67 L1428.4,930.95 L1427.07,930.18 L1425.93,929.38 L1424.99,928.56 L1424.25,927.71 L1423.72,926.84 L1423.4,925.97 L1423.3,925.08 L1423.41,924.2 L1423.74,923.32 L1424.27,922.46 L1425.02,921.61 L1425.97,920.79 L1427.12,919.99 L1428.46,919.23 L1429.97,918.5 L1431.66,917.82 L1433.51,917.19 L1435.51,916.61 L1437.64,916.08 L1439.89,915.61 L1442.25,915.21 L1444.7,914.87" fill="none" stroke="#000" stroke-width="2.3" stroke-linecap="round"/><path d="M1447.16,914.57 L1442.11,918.61 L1441.28,911.87 Z" fill="#000"/>
<path d="M1454.5,933 V892.8" stroke="#000" stroke-width="2.1"/><path d="M1449.5,899.8 L1454.5,892.8 L1459.5,899.8" fill="none" stroke="#000" stroke-width="2.1" stroke-linecap="round" stroke-linejoin="round"/>
<path d="M1597.2,914.55 L1599.74,914.8 L1602.2,915.13 L1604.58,915.52 L1606.86,915.97 L1609.02,916.48 L1611.05,917.05 L1612.93,917.67 L1614.66,918.34 L1616.22,919.06 L1617.6,919.81 L1618.79,920.6 L1619.78,921.42 L1620.58,922.27 L1621.16,923.13 L1621.53,924 L1621.69,924.88 L1621.64,925.77 L1621.37,926.65 L1620.89,927.52 L1620.19,928.37 L1619.3,929.2 L1618.2,930.01 L1616.91,930.78 L1615.44,931.51 L1613.8,932.21 L1611.99,932.85 L1610.03,933.45 L1607.93,933.99 L1605.71,934.47 L1603.38,934.89 L1600.95,935.25 L1598.44,935.54 L1595.88,935.76 L1593.26,935.91 L1590.62,935.99 L1587.97,935.99 L1585.33,935.93 L1582.71,935.8 L1580.13,935.59 L1577.61,935.32 L1575.16,934.98 L1572.81,934.57 L1570.56,934.1 L1568.43,933.57 L1566.44,932.99 L1564.6,932.36 L1562.91,931.67 L1561.4,930.95 L1560.07,930.18 L1558.93,929.38 L1557.99,928.56 L1557.25,927.71 L1556.72,926.84 L1556.4,925.97 L1556.3,925.08 L1556.41,924.2 L1556.74,923.32 L1557.27,922.46 L1558.02,921.61 L1558.97,920.79 L1560.12,919.99 L1561.46,919.23 L1562.97,918.5 L1564.66,917.82 L1566.51,917.19 L1568.51,916.61 L1570.64,916.08 L1572.89,915.61 L1575.25,915.21 L1577.7,914.87" fill="none" stroke="#000" stroke-width="2.3" stroke-linecap="round"/><path d="M1580.16,914.57 L1575.11,918.61 L1574.28,911.87 Z" fill="#000"/>
<path d="M1587.6,933 V892.8" stroke="#000" stroke-width="2.1"/><path d="M1582.6,899.8 L1587.6,892.8 L1592.6,899.8" fill="none" stroke="#000" stroke-width="2.1" stroke-linecap="round" stroke-linejoin="round"/>
<clipPath id="hB1"><rect x="1310.4" y="1009.6" width="203.6" height="88"/></clipPath>
<g clip-path="url(#hB1)" stroke="#000" stroke-width="2.5" fill="none">
<path d="M1299.6,1009.6 L1211.6,1097.6 M1332.5,1009.6 L1244.5,1097.6 M1365.4,1009.6 L1277.4,1097.6 M1398.3,1009.6 L1310.3,1097.6 M1431.2,1009.6 L1343.2,1097.6 M1464.1,1009.6 L1376.1,1097.6 M1497,1009.6 L1409,1097.6 M1529.9,1009.6 L1441.9,1097.6 M1562.8,1009.6 L1474.8,1097.6 M1595.7,1009.6 L1507.7,1097.6 M1628.6,1009.6 L1540.6,1097.6"/>
<path d="M1283.15,1009.6 L1195.15,1097.6 M1316.05,1009.6 L1228.05,1097.6 M1348.95,1009.6 L1260.95,1097.6 M1381.85,1009.6 L1293.85,1097.6 M1414.75,1009.6 L1326.75,1097.6 M1447.65,1009.6 L1359.65,1097.6 M1480.55,1009.6 L1392.55,1097.6 M1513.45,1009.6 L1425.45,1097.6 M1546.35,1009.6 L1458.35,1097.6 M1579.25,1009.6 L1491.25,1097.6 M1612.15,1009.6 L1524.15,1097.6" stroke-dasharray="29 5.5 1.2 5.5" stroke-linecap="round"/>
</g>
<clipPath id="hB2"><rect x="1540.2" y="1009.6" width="203.8" height="88"/></clipPath>
<g clip-path="url(#hB2)" stroke="#000" stroke-width="2.5" fill="none">
<path d="M1529.9,1009.6 L1441.9,1097.6 M1562.8,1009.6 L1474.8,1097.6 M1595.7,1009.6 L1507.7,1097.6 M1628.6,1009.6 L1540.6,1097.6 M1661.5,1009.6 L1573.5,1097.6 M1694.4,1009.6 L1606.4,1097.6 M1727.3,1009.6 L1639.3,1097.6 M1760.2,1009.6 L1672.2,1097.6 M1793.1,1009.6 L1705.1,1097.6 M1826,1009.6 L1738,1097.6 M1858.9,1009.6 L1770.9,1097.6"/>
<path d="M1513.45,1009.6 L1425.45,1097.6 M1546.35,1009.6 L1458.35,1097.6 M1579.25,1009.6 L1491.25,1097.6 M1612.15,1009.6 L1524.15,1097.6 M1645.05,1009.6 L1557.05,1097.6 M1677.95,1009.6 L1589.95,1097.6 M1710.85,1009.6 L1622.85,1097.6 M1743.75,1009.6 L1655.75,1097.6 M1776.65,1009.6 L1688.65,1097.6 M1809.55,1009.6 L1721.55,1097.6 M1842.45,1009.6 L1754.45,1097.6" stroke-dasharray="29 5.5 1.2 5.5" stroke-linecap="round"/>
</g>
<rect x="1310.4" y="1009.6" width="433.6" height="338.8" fill="none" stroke="#000" stroke-width="2.5"/>
<path d="M1310.4,1097.6 H1744" stroke="#000" stroke-width="2.5"/>
<path d="M1519.5,1011 L1517.5,1140" stroke="#000" stroke-width="4" stroke-linecap="butt"/>
<path d="M1526.7,1011 L1526.7,1140" stroke="#000" stroke-width="4" stroke-linecap="butt"/>
<path d="M1535.7,1011 L1537.2,1140" stroke="#000" stroke-width="4" stroke-linecap="butt"/>
<path d="M1516.3,1011 V1095 M1538.9,1011 V1095" stroke="#aaa" stroke-width="1.6"/>
<path d="M1395,1097.6 V1135 M1657.6,1097.6 V1135" stroke="#000" stroke-width="3.2" stroke-linecap="round"/>
<rect x="1387.6" y="1165.2" width="275" height="46.8" fill="none" stroke="#000" stroke-width="2.5"/>

<!-- ===== dimension numbers ===== -->

<g transform="translate(122.2,246) rotate(-90) scale(22.1) translate(-1.11,0.5)" fill="none" stroke="#000" stroke-width="0.1041" stroke-linecap="butt" stroke-linejoin="round"><path transform="translate(0,0)" d="M0.05,-0.79 Q0.2,-0.87 0.33,-0.995 V0"/><path transform="translate(0.58,0)" d="M0.06,-0.68 A0.3,0.3 0 1 0 0.66,-0.68 A0.3,0.3 0 1 0 0.06,-0.68Z M0.66,-0.68 C0.66,-0.3 0.52,-0.045 0.31,-0.045 C0.2,-0.045 0.12,-0.07 0.06,-0.11"/><path transform="translate(1.5,0)" d="M0.62,-0.955 H0.16 L0.13,-0.6 C0.25,-0.66 0.34,-0.67 0.38,-0.67 C0.56,-0.67 0.67,-0.52 0.67,-0.34 C0.67,-0.15 0.53,-0.045 0.34,-0.045 C0.21,-0.045 0.1,-0.08 0.04,-0.13"/></g>
<g transform="translate(200.8,335.5) rotate(-90) scale(23) translate(-1.16,0.5)" fill="none" stroke="#000" stroke-width="0.1000" stroke-linecap="butt" stroke-linejoin="round"><path transform="translate(0,0)" d="M0.05,-0.79 Q0.2,-0.87 0.33,-0.995 V0"/><path transform="translate(0.58,0)" d="M0.06,-0.77 C0.1,-0.94 0.22,-0.99 0.35,-0.99 C0.53,-0.99 0.66,-0.87 0.66,-0.71 C0.66,-0.57 0.56,-0.45 0.05,-0.045 H0.69"/><path transform="translate(1.5,0)" d="M0.053,-0.5 A0.357,0.448 0 1 0 0.767,-0.5 A0.357,0.448 0 1 0 0.053,-0.5Z"/></g>
<g transform="translate(711.3,162.5) rotate(-90) scale(22.5) translate(-1.21,0.5)" fill="none" stroke="#000" stroke-width="0.1022" stroke-linecap="butt" stroke-linejoin="round"><path transform="translate(0,0)" d="M0.05,-0.79 Q0.2,-0.87 0.33,-0.995 V0"/><path transform="translate(0.58,0)" d="M0.053,-0.5 A0.357,0.448 0 1 0 0.767,-0.5 A0.357,0.448 0 1 0 0.053,-0.5Z"/><path transform="translate(1.6,0)" d="M0.053,-0.5 A0.357,0.448 0 1 0 0.767,-0.5 A0.357,0.448 0 1 0 0.053,-0.5Z"/></g>
<g transform="translate(367.6,507.7) rotate(0) scale(22.3) translate(-0.88,0.5)" fill="none" stroke="#000" stroke-width="0.0987" stroke-linecap="butt" stroke-linejoin="round"><path transform="translate(0,0)" d="M0.12,-0.735 A0.255,0.215 0 1 0 0.63,-0.735 A0.255,0.215 0 1 0 0.12,-0.735Z M0.05,-0.27 A0.32,0.225 0 1 0 0.69,-0.27 A0.32,0.225 0 1 0 0.05,-0.27Z"/><path transform="translate(0.94,0)" d="M0.053,-0.5 A0.357,0.448 0 1 0 0.767,-0.5 A0.357,0.448 0 1 0 0.053,-0.5Z"/></g>
<g transform="translate(467,575.8) rotate(0) scale(21.6) translate(-1.11,0.5)" fill="none" stroke="#000" stroke-width="0.1065" stroke-linecap="butt" stroke-linejoin="round"><path transform="translate(0,0)" d="M0.05,-0.79 Q0.2,-0.87 0.33,-0.995 V0"/><path transform="translate(0.58,0)" d="M0.05,-0.955 H0.68 L0.2,0"/><path transform="translate(1.5,0)" d="M0.62,-0.955 H0.16 L0.13,-0.6 C0.25,-0.66 0.34,-0.67 0.38,-0.67 C0.56,-0.67 0.67,-0.52 0.67,-0.34 C0.67,-0.15 0.53,-0.045 0.34,-0.045 C0.21,-0.045 0.1,-0.08 0.04,-0.13"/></g>
<g transform="translate(883,260.5) rotate(-90) scale(23.2) translate(-1.11,0.5)" fill="none" stroke="#000" stroke-width="0.0991" stroke-linecap="butt" stroke-linejoin="round"><path transform="translate(0,0)" d="M0.05,-0.79 Q0.2,-0.87 0.33,-0.995 V0"/><path transform="translate(0.58,0)" d="M0.06,-0.68 A0.3,0.3 0 1 0 0.66,-0.68 A0.3,0.3 0 1 0 0.06,-0.68Z M0.66,-0.68 C0.66,-0.3 0.52,-0.045 0.31,-0.045 C0.2,-0.045 0.12,-0.07 0.06,-0.11"/><path transform="translate(1.5,0)" d="M0.62,-0.955 H0.16 L0.13,-0.6 C0.25,-0.66 0.34,-0.67 0.38,-0.67 C0.56,-0.67 0.67,-0.52 0.67,-0.34 C0.67,-0.15 0.53,-0.045 0.34,-0.045 C0.21,-0.045 0.1,-0.08 0.04,-0.13"/></g>
<g transform="translate(1079,549.4) rotate(0) scale(22) translate(-1.21,0.5)" fill="none" stroke="#000" stroke-width="0.1045" stroke-linecap="butt" stroke-linejoin="round"><path transform="translate(0,0)" d="M0.05,-0.79 Q0.2,-0.87 0.33,-0.995 V0"/><path transform="translate(0.58,0)" d="M0.053,-0.5 A0.357,0.448 0 1 0 0.767,-0.5 A0.357,0.448 0 1 0 0.053,-0.5Z"/><path transform="translate(1.6,0)" d="M0.053,-0.5 A0.357,0.448 0 1 0 0.767,-0.5 A0.357,0.448 0 1 0 0.053,-0.5Z"/></g>
<g transform="translate(916.9,1052.1) rotate(0) scale(21.8) translate(-1.21,0.5)" fill="none" stroke="#000" stroke-width="0.1055" stroke-linecap="butt" stroke-linejoin="round"><path transform="translate(0,0)" d="M0.05,-0.79 Q0.2,-0.87 0.33,-0.995 V0"/><path transform="translate(0.58,0)" d="M0.053,-0.5 A0.357,0.448 0 1 0 0.767,-0.5 A0.357,0.448 0 1 0 0.053,-0.5Z"/><path transform="translate(1.6,0)" d="M0.053,-0.5 A0.357,0.448 0 1 0 0.767,-0.5 A0.357,0.448 0 1 0 0.053,-0.5Z"/></g>
<g transform="translate(1436,114) rotate(-30.4) scale(31) translate(-0.82,0.5)" fill="none" stroke="#000" stroke-width="0.0839" stroke-linecap="butt" stroke-linejoin="round"><path transform="translate(0,0)" d="M0.06,-0.68 A0.3,0.3 0 1 0 0.66,-0.68 A0.3,0.3 0 1 0 0.06,-0.68Z M0.66,-0.68 C0.66,-0.3 0.52,-0.045 0.31,-0.045 C0.2,-0.045 0.12,-0.07 0.06,-0.11"/><path transform="translate(0.92,0)" d="M0.62,-0.955 H0.16 L0.13,-0.6 C0.25,-0.66 0.34,-0.67 0.38,-0.67 C0.56,-0.67 0.67,-0.52 0.67,-0.34 C0.67,-0.15 0.53,-0.045 0.34,-0.045 C0.21,-0.045 0.1,-0.08 0.04,-0.13"/></g>
<g transform="translate(1594.6,560.4) rotate(0) scale(18.6) translate(-0.19,0.5)" fill="none" stroke="#000" stroke-width="0.1183" stroke-linecap="butt" stroke-linejoin="round"><path transform="translate(0,0)" d="M0.05,-0.79 Q0.2,-0.87 0.33,-0.995 V0"/></g>
<g transform="translate(1346.8,952.6) rotate(0) scale(32.7) translate(-0.46,0.5)" fill="none" stroke="#000" stroke-width="0.0979" stroke-linecap="butt" stroke-linejoin="round"><path transform="translate(0,0)" d="M0.04,0 L0.46,-0.955 L0.88,0 M0.2,-0.36 H0.72"/></g>
<g transform="translate(1349.4,1315.5) rotate(0) scale(32) translate(-0.43,0.5)" fill="none" stroke="#000" stroke-width="0.1000" stroke-linecap="butt" stroke-linejoin="round"><path transform="translate(0,0)" d="M0.07,-0.045 V-0.955 H0.42 C0.62,-0.955 0.72,-0.84 0.72,-0.72 C0.72,-0.58 0.6,-0.5 0.42,-0.5 H0.07 M0.42,-0.5 C0.68,-0.5 0.8,-0.38 0.8,-0.27 C0.8,-0.12 0.68,-0.045 0.44,-0.045 H0.07"/></g>
</svg>
</body></html>
